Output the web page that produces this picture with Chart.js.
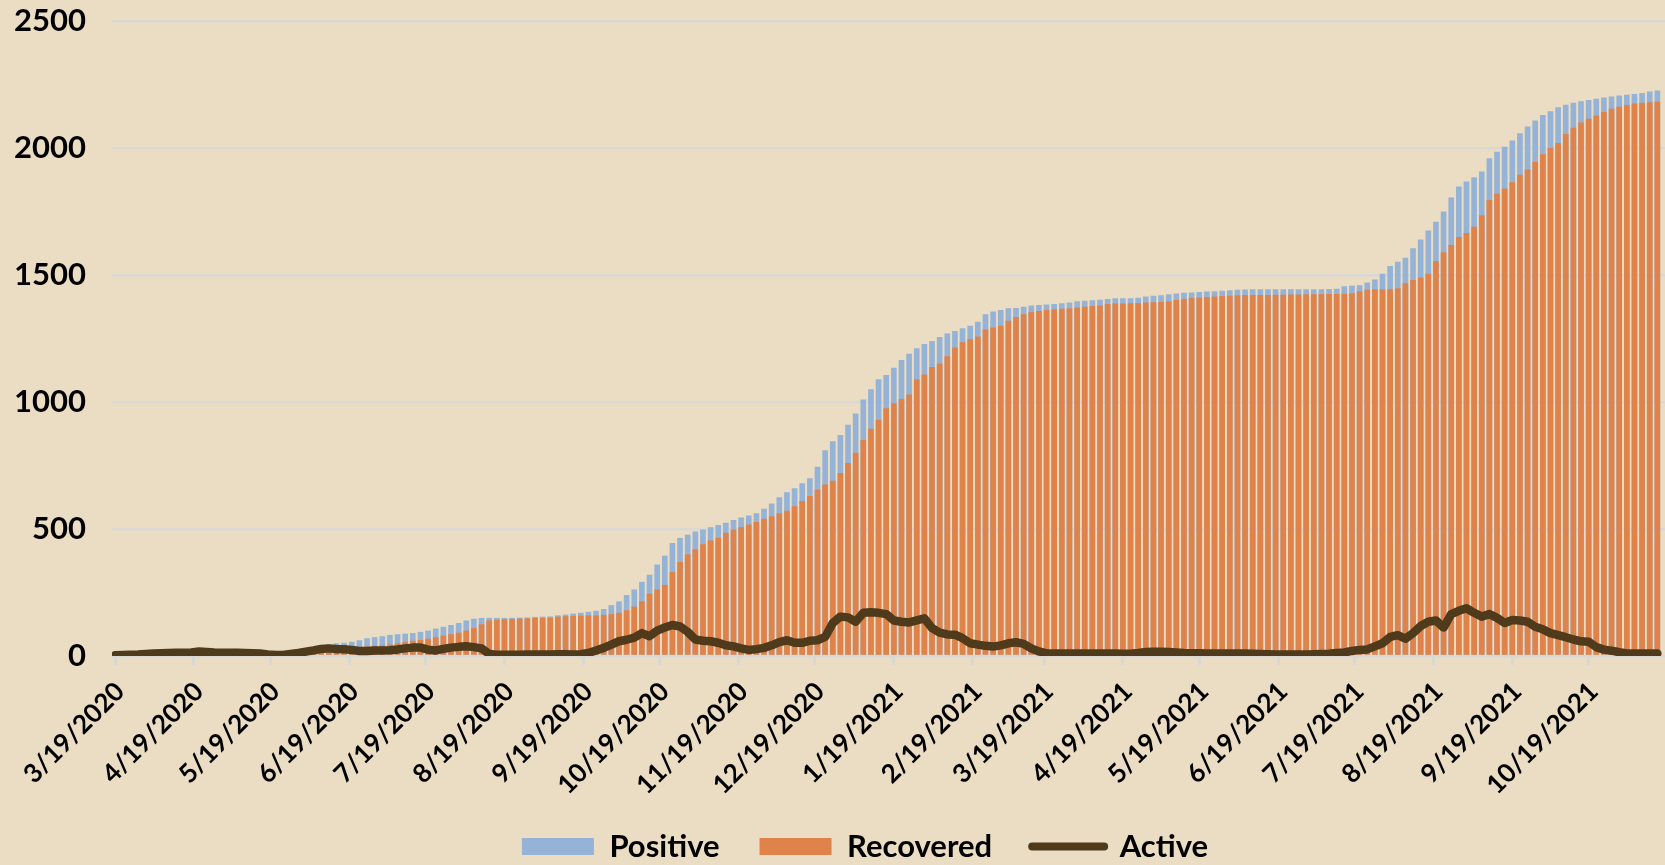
<!DOCTYPE html>
<html>
<head>
<meta charset="utf-8">
<title>Positive / Recovered / Active</title>
<script src="https://cdn.jsdelivr.net/npm/chart.js@4.4.1/dist/chart.umd.min.js"></script>
<style>
    html, body { margin: 0; padding: 0; background: #eaddc3; overflow: hidden; }
    #wrap { width: 1665px; height: 892px; }
</style>
</head>
<body>
<div id="wrap"><canvas id="chart"></canvas></div>
<script>
// one value every 3 days, starting 3/19/2020
const startDate = '3/19/2020';
const stepDays = 3;

const positive = [
    6, 7, 8, 9, 11, 13, 14, 15, 16, 16,
    17, 20, 20, 20, 20, 20, 20, 20, 20, 20,
    20, 20, 20, 22, 25, 28, 33, 40, 46, 50,
    52, 56, 62, 70, 74, 78, 83, 86, 88, 90,
    95, 100, 108, 115, 122, 130, 140, 147, 150, 150,
    150, 150, 150, 151, 152, 154, 155, 156, 160, 163,
    167, 170, 174, 178, 185, 200, 215, 240, 262, 292,
    320, 360, 395, 445, 465, 478, 490, 498, 507, 516,
    525, 535, 545, 553, 562, 580, 600, 625, 645, 660,
    680, 700, 745, 810, 845, 870, 910, 955, 1010, 1050,
    1090, 1106, 1135, 1165, 1190, 1212, 1228, 1240, 1256, 1270,
    1280, 1290, 1300, 1316, 1345, 1356, 1362, 1369, 1370, 1375,
    1380, 1382, 1384, 1386, 1389, 1392, 1397, 1399, 1401, 1403,
    1406, 1408, 1408, 1408, 1410, 1415, 1418, 1420, 1424, 1427,
    1430, 1431, 1433, 1435, 1436, 1438, 1440, 1442, 1443, 1444,
    1444, 1444, 1444, 1444, 1444, 1444, 1444, 1444, 1444, 1445,
    1446, 1456, 1458, 1460, 1470, 1482, 1505, 1535, 1552, 1568,
    1605, 1640, 1675, 1710, 1750, 1805, 1848, 1868, 1885, 1907,
    1960, 1985, 2005, 2030, 2058, 2085, 2108, 2130, 2145, 2160,
    2170, 2178, 2184, 2189, 2194, 2199, 2203, 2207, 2210, 2213,
    2217, 2222, 2226
];

const recovered = [
    0, 0, 0, 0, 0, 0, 0, 0, 0, 0,
    2, 2, 3, 4, 5, 6, 6, 7, 8, 9,
    12, 14, 15, 15, 15, 15, 15, 16, 18, 22,
    25, 28, 32, 38, 40, 42, 45, 50, 55, 60,
    63, 68, 74, 80, 86, 92, 100, 110, 125, 140,
    143, 145, 146, 147, 148, 150, 150, 151, 155, 157,
    158, 159, 160, 160, 162, 165, 170, 180, 194, 215,
    245, 262, 280, 330, 370, 400, 420, 440, 455, 465,
    485, 497, 508, 518, 528, 540, 550, 562, 572, 590,
    610, 630, 655, 675, 690, 720, 760, 800, 850, 895,
    930, 975, 995, 1012, 1030, 1090, 1108, 1138, 1152, 1180,
    1215, 1235, 1248, 1258, 1285, 1293, 1300, 1320, 1335, 1345,
    1354, 1358, 1362, 1365, 1367, 1369, 1372, 1375, 1378, 1380,
    1386, 1388, 1388, 1389, 1390, 1392, 1393, 1394, 1396, 1402,
    1406, 1409, 1411, 1413, 1415, 1417, 1418, 1420, 1421, 1421,
    1421, 1421, 1422, 1422, 1423, 1423, 1424, 1424, 1425, 1425,
    1425, 1426, 1428, 1436, 1442, 1444, 1444, 1445, 1448, 1468,
    1480, 1490, 1505, 1555, 1590, 1618, 1650, 1665, 1690, 1735,
    1795, 1820, 1841, 1865, 1895, 1915, 1945, 1975, 2000, 2020,
    2055, 2080, 2100, 2115, 2128, 2142, 2155, 2162, 2169, 2175,
    2178, 2180, 2182
];

const active = [
    3, 4, 5, 6, 8, 10, 11, 12, 13, 13,
    14, 18, 16, 14, 13, 13, 13, 12, 11, 10,
    6, 4, 4, 8, 12, 17, 22, 28, 30, 28,
    27, 24, 20, 20, 22, 22, 23, 26, 30, 33,
    33, 25, 22, 28, 33, 36, 38, 35, 30, 8,
    5, 5, 5, 5, 6, 6, 6, 6, 7, 7,
    6, 7, 12, 22, 32, 45, 58, 64, 72, 90,
    78, 100, 112, 122, 116, 95, 65, 60, 58, 52,
    42, 38, 30, 24, 27, 32, 42, 55, 62, 52,
    52, 60, 62, 75, 130, 155, 152, 135, 170, 172,
    170, 165, 140, 135, 132, 140, 148, 110, 92, 85,
    84, 70, 50, 45, 40, 37, 42, 50, 54, 48,
    30, 18, 10, 10, 10, 10, 10, 10, 10, 10,
    10, 10, 9, 9, 12, 16, 17, 17, 16, 14,
    12, 11, 11, 10, 10, 10, 10, 10, 10, 9,
    8, 7, 6, 6, 6, 6, 6, 7, 8, 9,
    12, 14, 20, 24, 26, 38, 50, 75, 82, 68,
    90, 118, 135, 140, 112, 165, 178, 188, 170, 155,
    165, 150, 130, 142, 140, 135, 115, 105, 90, 82,
    74, 65, 58, 56, 35, 25, 21, 15, 10, 10,
    10, 10, 10
];

const tickLabels = [
    '3/19/2020', '4/19/2020', '5/19/2020', '6/19/2020', '7/19/2020',
    '8/19/2020', '9/19/2020', '10/19/2020', '11/19/2020', '12/19/2020',
    '1/19/2021', '2/19/2021', '3/19/2021', '4/19/2021', '5/19/2021',
    '6/19/2021', '7/19/2021', '8/19/2021', '9/19/2021', '10/19/2021'
];

const yTicks = [0, 500, 1000, 1500, 2000, 2500];

// days since the first date
function dayOf(label) {
    const [m, d, y] = label.split('/').map(Number);
    const [m0, d0, y0] = startDate.split('/').map(Number);
    return Math.round((Date.UTC(y, m - 1, d) - Date.UTC(y0, m0 - 1, d0)) / 86400000);
}
const tickDays = tickLabels.map(dayOf);

function toPoints(values) {
    return values.map((v, i) => ({ x: i * stepDays, y: v }));
}

const colors = {
    positive: '#95b3d7',
    recovered: '#e0834a',
    active: '#4f3b1b',
    grid: '#d9d8d4'
};

// the x axis gets a tall box so the long date labels are not clipped,
// then the legend is pulled back up and a little to the left
const legendShift = {
    id: 'legendShift',
    afterLayout(chart) {
        const lg = chart.legend;
        if (!lg) return;
        lg.right -= 47;
        lg.top -= 20;
        lg.bottom -= 20;
    }
};

Chart.defaults.font.family = 'Lato, "Open Sans", sans-serif';
Chart.defaults.font.weight = 'bold';
Chart.defaults.color = '#000';

const ctx = document.getElementById('chart').getContext('2d');
new Chart(ctx, {
    type: 'bar',
    data: {
        datasets: [
            {
                type: 'bar',
                label: 'Positive',
                data: toPoints(positive),
                backgroundColor: colors.positive,
                grouped: false,
                barPercentage: 0.74,
                categoryPercentage: 1,
                order: 2
            },
            {
                type: 'bar',
                label: 'Recovered',
                data: toPoints(recovered),
                backgroundColor: colors.recovered,
                grouped: false,
                barPercentage: 0.74,
                categoryPercentage: 1,
                order: 1
            },
            {
                type: 'line',
                label: 'Active',
                data: toPoints(active),
                borderColor: colors.active,
                backgroundColor: colors.active,
                borderWidth: 8.5,
                borderJoinStyle: 'round',
                borderCapStyle: 'round',
                pointRadius: 0,
                tension: 0,
                order: 0
            }
        ]
    },
    plugins: [legendShift],
    options: {
        responsive: true,
        maintainAspectRatio: false,
        animation: false,
        layout: { padding: { top: 21, right: 0, bottom: 0, left: 0 } },
        plugins: {
            tooltip: { enabled: false },
            legend: {
                position: 'bottom',
                fullSize: false,
                labels: {
                    usePointStyle: true,
                    pointStyleWidth: 72,
                    boxHeight: 17,
                    padding: 40,
                    color: '#000',
                    font: { size: 31, weight: 'bold' },
                    generateLabels: function(chart) {
                        const ds = chart.data.datasets;
                        return [
                            { text: ds[0].label, fillStyle: colors.positive, strokeStyle: colors.positive, lineWidth: 0, pointStyle: 'rect', datasetIndex: 0 },
                            { text: ds[1].label, fillStyle: colors.recovered, strokeStyle: colors.recovered, lineWidth: 0, pointStyle: 'rect', datasetIndex: 1 },
                            { text: ds[2].label, fillStyle: colors.active, strokeStyle: colors.active, lineWidth: 8, lineCap: 'round', pointStyle: 'line', datasetIndex: 2 }
                        ];
                    }
                }
            }
        },
        scales: {
            x: {
                type: 'linear',
                offset: false,
                min: -1.2,
                max: 609,
                afterBuildTicks: function(scale) {
                    scale.ticks = tickDays.map(v => ({ value: v }));
                },
                afterFit: function(scale) {
                    scale.height = 155;
                    scale.paddingLeft = 0;
                    scale.paddingRight = 0;
                },
                grid: {
                    offset: false,
                    drawOnChartArea: false,
                    drawTicks: true,
                    tickLength: 9,
                    lineWidth: 3,
                    color: colors.grid
                },
                border: { display: false },
                ticks: {
                    autoSkip: false,
                    maxRotation: 45,
                    minRotation: 45,
                    padding: 11,
                    labelOffset: 5,
                    font: { size: 26, weight: 'bold' },
                    callback: function(value, index) {
                        return tickLabels[index];
                    }
                }
            },
            y: {
                min: 0,
                max: 2500,
                afterBuildTicks: function(scale) {
                    scale.ticks = yTicks.map(v => ({ value: v }));
                },
                afterFit: function(scale) {
                    scale.width = 112;
                    scale.paddingTop = 0;
                    scale.paddingBottom = 0;
                },
                grid: {
                    drawTicks: false,
                    lineWidth: 2.5,
                    color: colors.grid
                },
                border: { display: false },
                ticks: {
                    padding: 26,
                    font: { size: 31, weight: 'bold' },
                    callback: function(value) {
                        return String(value);
                    }
                }
            }
        }
    }
});
</script>
</body>
</html>
